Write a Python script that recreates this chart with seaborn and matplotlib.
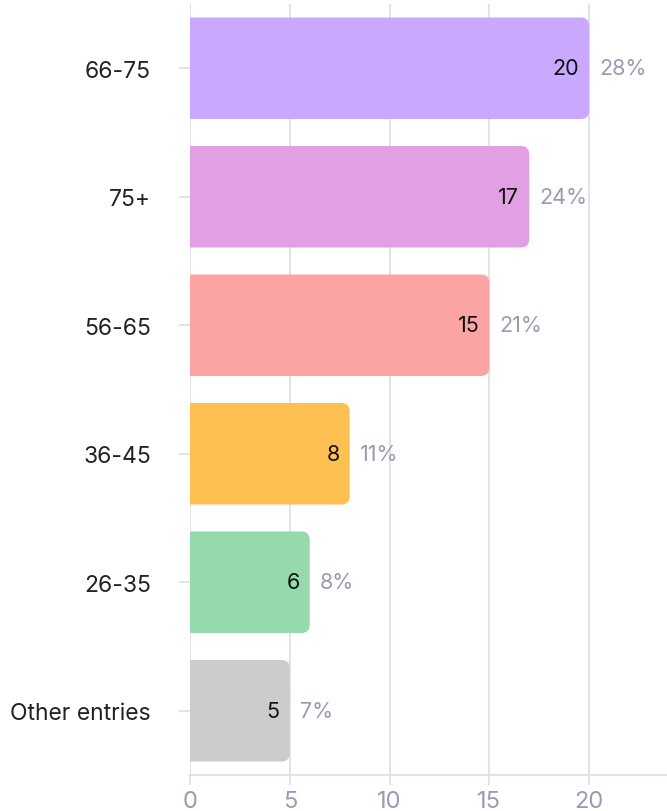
import matplotlib
matplotlib.use("Agg")
import matplotlib.pyplot as plt
import pandas as pd
import seaborn as sns
from matplotlib.patches import FancyBboxPatch

CATEGORIES = ["66-75", "75+", "56-65", "36-45", "26-35", "Other entries"]
COUNTS = [20, 17, 15, 8, 6, 5]
PERCENTS = ["28%", "24%", "21%", "11%", "8%", "7%"]
COLORS = ["#C8A9FF", "#E2A0E4", "#FBA4A4", "#FFC052", "#95D9AC", "#CCCCCC"]
X_TICKS = [0, 5, 10, 15, 20]

GRID_COLOR = "#DFDFEA"
MUTED = "#9C9AB2"

sns.set_theme(style="white")
plt.rcParams["font.family"] = ["Inter", "DejaVu Sans"]

df = pd.DataFrame({"group": CATEGORIES, "count": COUNTS})

fig = plt.figure(figsize=(6.67, 8.12), dpi=100)
ax = fig.add_axes([190 / 667, 36 / 812, 477 / 667, 771 / 812])

sns.barplot(
    data=df, x="count", y="group", hue="group", order=CATEGORIES,
    palette=dict(zip(CATEGORIES, COLORS)), orient="h", width=0.79,
    saturation=1, legend=False, ax=ax, zorder=2,
)

ax.set_xlim(0, 23.9)
ax.set_ylim(5.5, -0.5)

# swap the plain bars for ones with rounded right corners
rx = 0.42
ry = rx * (477 / 23.9) / (771 / 6)
for patch in list(ax.patches):
    x0, y0 = patch.get_x(), patch.get_y()
    w, h = patch.get_width(), patch.get_height()
    rounded = FancyBboxPatch(
        (x0 - rx, y0), w + rx, h,
        boxstyle=f"round,pad=0,rounding_size={rx}",
        mutation_aspect=ry / rx,
        facecolor=patch.get_facecolor(), edgecolor="none", zorder=2,
    )
    patch.set_visible(False)
    ax.add_patch(rounded)

for i, (val, pct) in enumerate(zip(COUNTS, PERCENTS)):
    ax.text(val - 0.5, i, str(val), ha="right", va="center",
            fontsize=15.5, color="#111111", zorder=3)
    ax.text(val + 0.5, i, pct, ha="left", va="center",
            fontsize=15.5, color=MUTED, zorder=3)

ax.set_xticks(X_TICKS)
ax.grid(axis="x", color=GRID_COLOR, linewidth=1.3, zorder=0)
ax.grid(axis="y", visible=False)
for side in ["top", "right", "left"]:
    ax.spines[side].set_visible(False)
ax.spines["bottom"].set_color(GRID_COLOR)
ax.spines["bottom"].set_linewidth(1.3)

ax.tick_params(axis="x", length=7, width=1.3, color=GRID_COLOR, pad=4,
               labelsize=17, labelcolor=MUTED, bottom=True)
ax.tick_params(axis="y", length=8, width=1.3, color=GRID_COLOR, pad=20,
               labelsize=16.5, labelcolor="#222222", left=True)
ax.set_xlabel("")
ax.set_ylabel("")

fig.savefig("out.png", dpi=100)
